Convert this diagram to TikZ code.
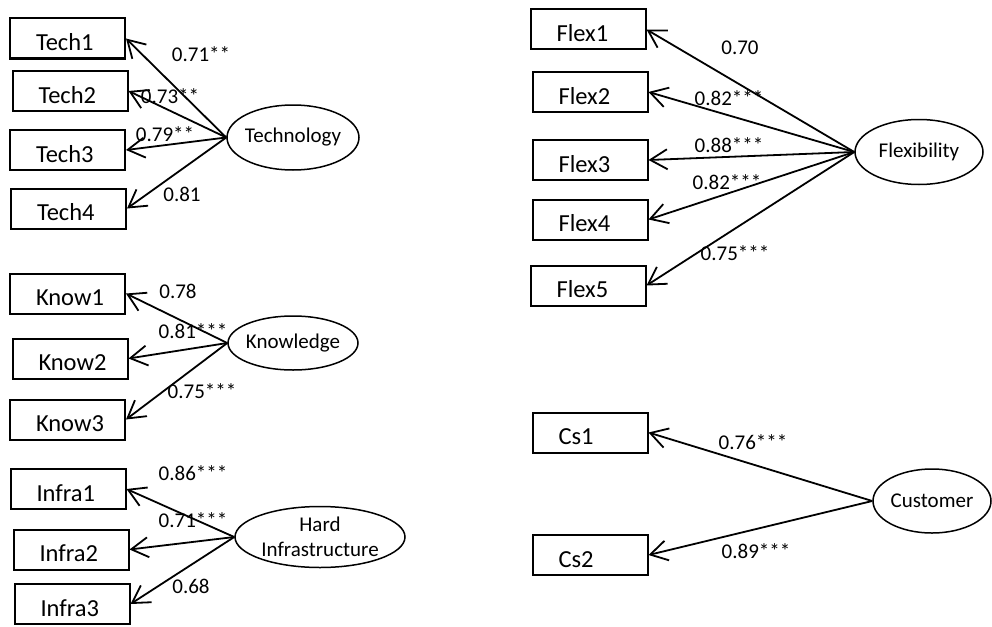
\documentclass[tikz,border=0pt]{standalone}
\usepackage{fontspec}
\setmainfont{Carlito}
\usetikzlibrary{arrows.meta, shapes.geometric}

\begin{document}
\begin{tikzpicture}[
    x=1pt, y=-1pt,
    item/.style={draw, line width=2pt, minimum width=115pt, minimum height=40pt, inner xsep=26pt, inner ysep=0pt, text width=63pt, align=left, text height=24.8pt, text depth=0pt, font=\fontsize{24.5}{28}\selectfont},
    latent/.style={draw, ellipse, line width=1.5pt, inner xsep=-14pt, inner ysep=-7pt, align=center, font=\fontsize{21}{25}\selectfont},
    arr/.style={-{Straight Barb[length=17pt,width=20pt]}, line width=1.8pt},
    coef/.style={inner sep=0pt, text height=13.2pt, text depth=0pt, font=\fontsize{21}{25}\selectfont},
  ]
  \useasboundingbox (0,0) rectangle (992,626);
  % left column
  \node[item] (t1) at (67.5,38.5) {Tech1};
  \node[item] (t2) at (70,91) {Tech2};
  \node[item] (t3) at (67.5,150) {Tech3};
  \node[item] (t4) at (68.5,208.5) {Tech4};
  \node[latent, minimum width=132pt, minimum height=65pt] (tech) at (293,137.5) {Technology};
  \node[item] (k1) at (67.5,293.5) {Know1};
  \node[item] (k2) at (70,358.5) {Know2};
  \node[item] (k3) at (67.5,419.5) {Know3};
  \node[latent, minimum width=130pt, minimum height=54pt] (know) at (293,343) {Knowledge};
  \node[item] (i1) at (68,489) {Infra1};
  \node[item] (i2) at (71,549.5) {Infra2};
  \node[item] (i3) at (72,604) {Infra3};
  \node[latent, minimum width=170pt, minimum height=61pt] (infra) at (320,537) {Hard\\Infrastructure};
  % right column
  \node[item] (f1) at (588,29.5) {Flex1};
  \node[item] (f2) at (590,92) {Flex2};
  \node[item] (f3) at (590,160) {Flex3};
  \node[item] (f4) at (590,219.5) {Flex4};
  \node[item] (f5) at (588,285.5) {Flex5};
  \node[latent, minimum width=128pt, minimum height=65pt] (flex) at (919,152) {Flexibility};
  \node[item] (c1) at (590,432.5) {Cs1};
  \node[item] (c2) at (590,555) {Cs2};
  \node[latent, minimum width=118pt, minimum height=64pt] (cust) at (932,501) {Customer};
  % loadings
  \foreach \s/\t/\x/\y/\v in {tech/t1/201/55/0.71**, tech/t2/170/97/0.73**, tech/t3/165/135/0.79**, tech/t4/182/195/0.81,
      know/k1/178/292/0.78, know/k2/193/332/0.81***, know/k3/202/392/0.75***,
      infra/i1/193/474/0.86***, infra/i2/193/521/0.71***, infra/i3/191/587/0.68,
      flex/f1/740/48/0.70, flex/f2/729/99/0.82***, flex/f3/729/146/0.88***, flex/f4/727/183/0.82***, flex/f5/735/254/0.75***,
      cust/c1/753/443/0.76***, cust/c2/756/552/0.89***} {
    \draw[arr] (\s.west) -- (\t.east);
    \node[coef] (w\t) at (\x,\y) {\v};
  }
\end{tikzpicture}
\end{document}
